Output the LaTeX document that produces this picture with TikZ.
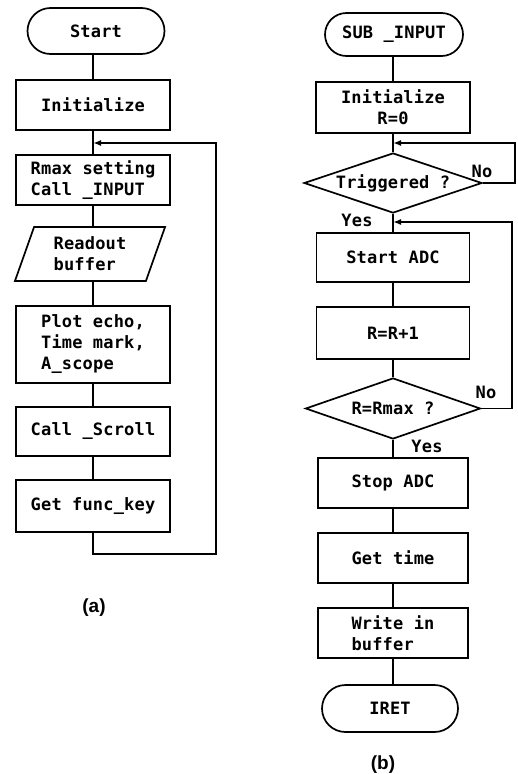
\documentclass[tikz,border=0pt]{standalone}
\usepackage{fontspec}
\newfontfamily\chartfont{DejaVu Sans Mono}[LetterSpace=1]
\newfontfamily\capfont{Liberation Sans}
\usetikzlibrary{shapes.geometric,shapes.misc,arrows.meta}
\begin{document}
\begin{tikzpicture}[x=1pt,y=-1pt,line width=1.7pt,
  txt/.style={font={\chartfont\bfseries\fontsize{17}{21}\selectfont}},
  proc/.style={txt,draw,rectangle,minimum width=154,minimum height=50,inner sep=0pt,align=center},
  term/.style={txt,draw,rounded rectangle,inner sep=0pt},
  io/.style={txt,draw,trapezium,trapezium left angle=70,trapezium right angle=110,trapezium stretches=true,inner sep=0pt,align=left},
  dec/.style={txt,draw,diamond,aspect=3,inner sep=0pt},
  lbl/.style={txt,inner sep=0pt},
  capt/.style={font={\capfont\bfseries\fontsize{19}{22}\selectfont},inner sep=0pt},
  arr/.style={-{Latex[length=8pt,width=6pt]}}]
\useasboundingbox (0,0) rectangle (517,774);
% ---------- (a) ----------
\node[term,minimum width=137,minimum height=46] (start) at (96,31) {Start};
\node[proc] (init) at (93,105) {Initialize};
\node[proc,align=left] (rmax) at (93,180) {Rmax setting\\Call \_INPUT};
\node[io,minimum width=151,minimum height=54] (readout) at (90,254) {Readout\\buffer};
\node[proc,minimum height=77,align=left] (plot) at (93,344.5) {Plot echo,\\Time mark,\\A\_scope};
\node[proc,minimum height=49] (scroll) at (93,431.5) {Call \_Scroll};
\node[proc,minimum height=52] (getkey) at (93,506) {Get func\_key};
\node[capt] (capa) at (94,608) {(a)};
\coordinate (lj) at (93,143);
\coordinate (la) at (216,554);
\draw (init.north |- start.south) -- (init.north);
\draw (init.south) -- (rmax.north);
\draw (rmax.south) -- (rmax.south |- readout.north);
\draw (plot.north |- readout.south) -- (plot.north);
\draw (plot.south) -- (scroll.north);
\draw (scroll.south) -- (getkey.north);
\draw[arr] (getkey.south) |- (la) |- (lj);
% ---------- (b) ----------
\node[term,minimum width=138,minimum height=43] (sub) at (394,34.5) {SUB \_INPUT};
\node[proc,minimum height=51] (init2) at (393,107.5) {Initialize\\R=0};
\node[dec,minimum width=178,minimum height=60] (trig) at (393,183) {Triggered ?};
\node[proc,minimum width=153,minimum height=49] (sadc) at (393,257.5) {Start ADC};
\node[proc,minimum width=153,minimum height=52] (rr) at (393,333) {R=R+1};
\node[dec,minimum width=175,minimum height=61] (rmx) at (393,408.5) {R=Rmax ?};
\node[proc,minimum width=150,minimum height=50] (stop) at (393,483) {Stop ADC};
\node[proc,minimum width=150,minimum height=50] (gt) at (393,558) {Get time};
\node[proc,minimum width=150,minimum height=50,align=left] (wb) at (393,633) {Write in\\buffer};
\node[term,minimum width=136,minimum height=47] (iret) at (390,708.5) {IRET};
\node[capt] (capb) at (383,765) {(b)};
\node[lbl] (no1) at (482,171) {No};
\node[lbl] (yes1) at (357,220) {Yes};
\node[lbl] (no2) at (486,392) {No};
\node[lbl] (yes2) at (427,446) {Yes};
\coordinate (rj1) at (393,143);
\coordinate (rc1) at (515,183);
\coordinate (rj2) at (393,222);
\coordinate (rc2) at (512,408.5);
\draw (init2.north |- sub.south) -- (init2.north);
\draw (init2.south) -- (trig.north);
\draw (trig.south) -- (sadc.north);
\draw (sadc.south) -- (rr.north);
\draw (rr.south) -- (rmx.north);
\draw (rmx.south) -- (stop.north);
\draw (stop.south) -- (gt.north);
\draw (gt.south) -- (wb.north);
\draw (wb.south) -- (wb.south |- iret.north);
\draw[arr] (trig.east) -- (rc1) |- (rj1);
\draw[arr] (rmx.east) -- (rc2) |- (rj2);
\end{tikzpicture}
\end{document}
